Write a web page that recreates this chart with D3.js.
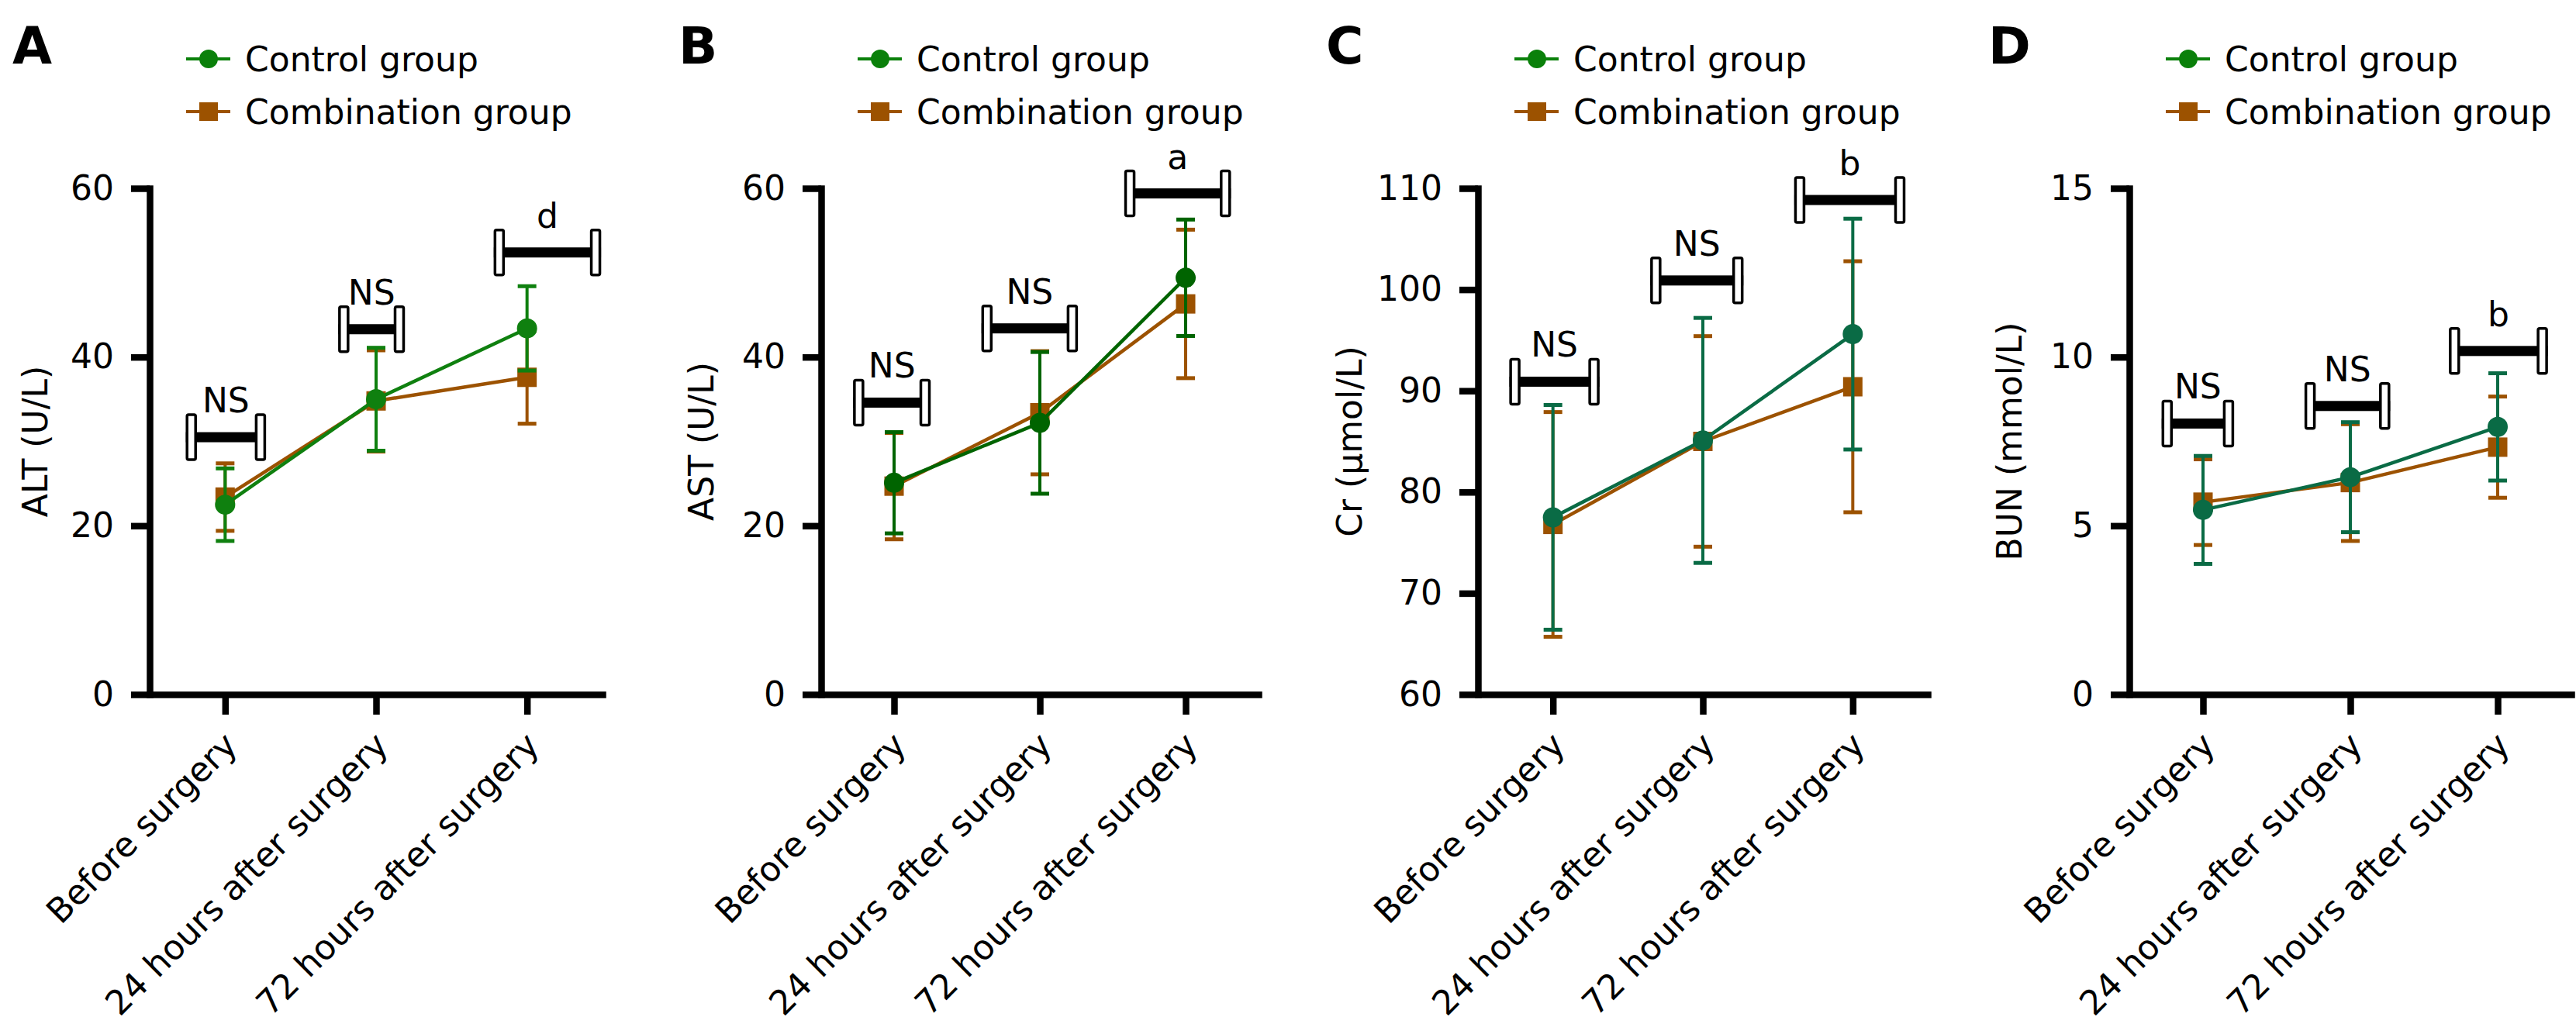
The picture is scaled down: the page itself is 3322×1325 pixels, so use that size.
<!DOCTYPE html>
<html>
<head>
    <meta charset="utf-8">
    <script src="https://cdn.jsdelivr.net/npm/d3@7"></script>

    <style>
        body {
            margin: 0;
            background: #fff;
        }

        svg {
            display: block;
            font-family: "DejaVu Sans", Verdana, sans-serif;
        }

        .axis path, .axis line {
            stroke: #000;
            stroke-width: 8.5;
        }

        .axis path {
            stroke-linecap: square;
        }

        .axis text {
            font-size: 44px;
            font-family: "DejaVu Sans", Verdana, sans-serif;
            fill: #000;
        }
    </style>
</head>

<body>
    <svg width="3322" height="1325"></svg>

    <script>
        // data
        const categories = ["Before surgery", "24 hours after surgery", "72 hours after surgery"];
        const panelLetters = ["A", "B", "C", "D"];
        const yTitles = ["ALT (U/L)", "AST (U/L)", "Cr (μmol/L)", "BUN (mmol/L)"];
        const yDomains = [[0, 60], [0, 60], [60, 110], [0, 15]];
        const yTicks = [[0, 20, 40, 60], [0, 20, 40, 60], [60, 70, 80, 90, 100, 110], [0, 5, 10, 15]];
        const seriesNames = ["Control group", "Combination group"];

        const controlMean = [[22.5, 35.0, 43.4], [25.1, 32.2, 49.4], [77.5, 85.1, 95.6], [5.47, 6.44, 7.93]];
        const controlSD = [[4.3, 6.1, 5.0], [6.0, 8.4, 6.9], [11.1, 12.1, 11.4], [1.6, 1.63, 1.59]];
        const comboMean = [[23.4, 34.8, 37.6], [24.7, 33.4, 46.3], [76.8, 85.0, 90.4], [5.70, 6.28, 7.33]];
        const comboSD = [[4.0, 6.0, 5.5], [6.3, 7.3, 8.8], [11.1, 10.4, 12.4], [1.27, 1.73, 1.50]];

        // significance bars: label, height (data units), span around category (in steps)
        const sigLabels = [["NS", "NS", "d"], ["NS", "NS", "a"], ["NS", "NS", "b"], ["NS", "NS", "b"]];
        const sigHeights = [[30.5, 43.3, 52.4], [34.6, 43.4, 59.4], [90.9, 100.9, 108.85], [8.03, 8.55, 10.18]];
        const sigSpans = [
            [[-0.26, 0.27], [-0.25, 0.19], [-0.22, 0.49]],
            [[-0.28, 0.25], [-0.40, 0.26], [-0.42, 0.31]],
            [[-0.29, 0.31], [-0.35, 0.27], [-0.39, 0.35]],
            [[-0.28, 0.21], [-0.31, 0.27], [-0.33, 0.34]]
        ];

        // layout
        const axisLeft = [193, 1059, 1906, 2746];
        const axisWidth = [584, 564, 580, 570];
        const letterX = [16, 875, 1710, 2564];
        const titleX = [61, 920, 1756, 2607];
        const plotTop = 243, plotBottom = 896;

        const legendGreen = "#0a800a";
        const dataGreen = ["#0f800f", "#006400", "#0a6b45", "#0a6b45"];
        const brown = "#9c5200";

        const svg = d3.select("svg");

        panelLetters.forEach(function(letter, i) {
            const g = svg.append("g");

            const x = d3.scalePoint()
                .domain(categories)
                .range([axisLeft[i], axisLeft[i] + axisWidth[i]])
                .padding(0.5);

            const y = d3.scaleLinear()
                .domain(yDomains[i])
                .range([plotBottom, plotTop]);

            // panel letter
            g.append("text")
                .attr("x", letterX[i])
                .attr("y", 82)
                .attr("font-size", 66)
                .attr("font-weight", "bold")
                .text(letter);

            // legend
            const legendColors = [legendGreen, brown];
            seriesNames.forEach(function(name, k) {
                const ly = 76 + k * 68;
                const lx = axisLeft[i] + 47;
                g.append("line")
                    .attr("x1", lx).attr("x2", lx + 57)
                    .attr("y1", ly).attr("y2", ly)
                    .attr("stroke", legendColors[k])
                    .attr("stroke-width", 4);
                if (k == 0) {
                    g.append("circle")
                        .attr("cx", lx + 29).attr("cy", ly).attr("r", 12)
                        .attr("fill", legendColors[k]);
                } else {
                    g.append("rect")
                        .attr("x", lx + 29 - 12).attr("y", ly - 12)
                        .attr("width", 24).attr("height", 24)
                        .attr("fill", legendColors[k]);
                }
                g.append("text")
                    .attr("x", lx + 76)
                    .attr("y", ly)
                    .attr("dy", "0.36em")
                    .attr("font-size", 44)
                    .text(name);
            });

            // axes
            g.append("g")
                .attr("class", "axis")
                .attr("transform", "translate(" + axisLeft[i] + ",0)")
                .call(d3.axisLeft(y)
                    .tickValues(yTicks[i])
                    .tickSize(24)
                    .tickSizeOuter(0)
                    .tickPadding(22)
                    .tickFormat(d3.format("d")));

            g.append("g")
                .attr("class", "axis")
                .attr("transform", "translate(0," + plotBottom + ")")
                .call(d3.axisBottom(x)
                    .tickSize(26)
                    .tickSizeOuter(0)
                    .tickFormat(""));

            g.selectAll(".xlabel")
                .data(categories)
                .enter()
                .append("text")
                    .attr("class", "xlabel")
                    .attr("text-anchor", "end")
                    .attr("font-size", 44)
                    .attr("transform", function(d) {
                        return "translate(" + (x(d) + 18) + "," + (plotBottom + 68) + ") rotate(-45)";
                    })
                    .text(function(d) { return d; });

            // y title
            g.append("text")
                .attr("text-anchor", "middle")
                .attr("font-size", 44)
                .attr("transform", "translate(" + titleX[i] + "," + ((plotTop + plotBottom) / 2) + ") rotate(-90)")
                .text(yTitles[i]);

            // significance bars
            sigLabels[i].forEach(function(lab, j) {
                const cx = x(categories[j]);
                const x0 = cx + sigSpans[i][j][0] * x.step();
                const x1 = cx + sigSpans[i][j][1] * x.step();
                const yb = y(sigHeights[i][j]);

                g.append("rect")
                    .attr("x", x0).attr("y", yb - 6.5)
                    .attr("width", x1 - x0).attr("height", 13)
                    .attr("fill", "#000");

                [x0 + 1.5, x1 - 12.5].forEach(function(cxp) {
                    g.append("rect")
                        .attr("x", cxp).attr("y", yb - 29)
                        .attr("width", 11).attr("height", 58)
                        .attr("rx", 2)
                        .attr("fill", "#fff")
                        .attr("stroke", "#000")
                        .attr("stroke-width", 3.5);
                });

                g.append("text")
                    .attr("x", (x0 + x1) / 2)
                    .attr("y", yb - 32)
                    .attr("text-anchor", "middle")
                    .attr("font-size", 44)
                    .text(lab);
            });

            // series: combination first, control on top
            const series = [
                {mean: comboMean[i], sd: comboSD[i], color: brown, shape: "square"},
                {mean: controlMean[i], sd: controlSD[i], color: dataGreen[i], shape: "circle"}
            ];

            const line = d3.line()
                .x(function(d, j) { return x(categories[j]); })
                .y(function(d) { return y(d); });

            series.forEach(function(s) {
                const sg = g.append("g");

                sg.append("path")
                    .datum(s.mean)
                    .attr("d", line)
                    .attr("fill", "none")
                    .attr("stroke", s.color)
                    .attr("stroke-width", 4.5);

                const pts = s.mean.map(function(m, j) {
                    return {x: x(categories[j]), m: m, sd: s.sd[j]};
                });

                // error bars
                sg.selectAll(".err")
                    .data(pts)
                    .enter()
                    .append("line")
                        .attr("x1", function(d) { return d.x; })
                        .attr("x2", function(d) { return d.x; })
                        .attr("y1", function(d) { return y(d.m - d.sd); })
                        .attr("y2", function(d) { return y(d.m + d.sd); })
                        .attr("stroke", s.color)
                        .attr("stroke-width", 4);

                [-1, 1].forEach(function(sign) {
                    sg.selectAll(null)
                        .data(pts)
                        .enter()
                        .append("line")
                            .attr("x1", function(d) { return d.x - 12; })
                            .attr("x2", function(d) { return d.x + 12; })
                            .attr("y1", function(d) { return y(d.m + sign * d.sd); })
                            .attr("y2", function(d) { return y(d.m + sign * d.sd); })
                            .attr("stroke", s.color)
                            .attr("stroke-width", 5);
                });

                // markers
                if (s.shape == "circle") {
                    sg.selectAll("circle")
                        .data(pts)
                        .enter()
                        .append("circle")
                            .attr("cx", function(d) { return d.x; })
                            .attr("cy", function(d) { return y(d.m); })
                            .attr("r", 13)
                            .attr("fill", s.color);
                } else {
                    sg.selectAll("rect")
                        .data(pts)
                        .enter()
                        .append("rect")
                            .attr("x", function(d) { return d.x - 12.5; })
                            .attr("y", function(d) { return y(d.m) - 12.5; })
                            .attr("width", 25)
                            .attr("height", 25)
                            .attr("fill", s.color);
                }
            });
        });
    </script>
</body>
</html>
